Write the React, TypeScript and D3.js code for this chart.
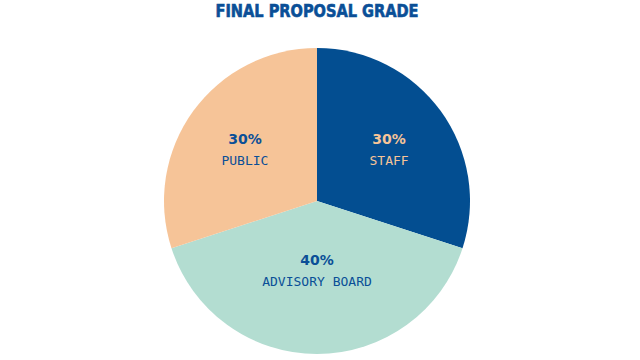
import { useMemo } from "react";
import * as d3 from "d3";

const categories = ["STAFF", "ADVISORY BOARD", "PUBLIC"];
const shares = [30, 40, 30];
const fills = ["#034e91", "#b3ddd1", "#f6c498"];
const textColors = ["#f6c498", "#0a4f97", "#0a4f97"];

const title = "FINAL PROPOSAL GRADE";

interface Slice {
  label: string;
  value: number;
  fill: string;
  text: string;
}

export default function App() {
  const width = 640;
  const height = 360;
  const cx = 317;
  const cy = 201;
  const radius = 153;

  const data: Slice[] = categories.map((c, i) => ({
    label: c,
    value: shares[i],
    fill: fills[i],
    text: textColors[i],
  }));

  const arcs = useMemo(
    () =>
      d3
        .pie<Slice>()
        .sort(null)
        .value((d) => d.value)(data),
    []
  );

  const arcGen = d3
    .arc<d3.PieArcDatum<Slice>>()
    .innerRadius(0)
    .outerRadius(radius);

  // inside labels: wider slices pull their text closer to the centre
  const labelPos = (a: d3.PieArcDatum<Slice>) => {
    const half = (a.endAngle - a.startAngle) / 2;
    const mid = (a.startAngle + a.endAngle) / 2;
    const sinc = Math.sin(half) / half;
    const dist = 0.79 * radius * sinc * sinc;
    return [dist * Math.sin(mid), -dist * Math.cos(mid)];
  };

  return (
    <svg
      width={width}
      height={height}
      style={{ position: "fixed", top: 0, left: 0, background: "#fff" }}
    >
      <text
        x={cx}
        y={17}
        textAnchor="middle"
        fill="#0a4f97"
        stroke="#0a4f97"
        strokeWidth={0.6}
        fontFamily="'Liberation Sans Narrow', 'DejaVu Sans Condensed', sans-serif"
        fontWeight="bold"
        fontSize={18}
        textLength={203}
        lengthAdjust="spacingAndGlyphs"
      >
        {title}
      </text>
      <g transform={`translate(${cx},${cy})`}>
        {arcs.map((a, i) => (
          <path key={i} d={arcGen(a) ?? ""} fill={a.data.fill} />
        ))}
        {arcs.map((a, i) => {
          const [x, y] = labelPos(a);
          return (
            <g key={i} transform={`translate(${x},${y})`} fill={a.data.text}>
              <text
                y={-5}
                textAnchor="middle"
                fontFamily="'DejaVu Sans', sans-serif"
                fontWeight="bold"
                fontSize={14}
              >
                {a.data.value}%
              </text>
              <text
                y={16}
                textAnchor="middle"
                fontFamily="'DejaVu Sans Mono', monospace"
                fontSize={13}
              >
                {a.data.label}
              </text>
            </g>
          );
        })}
      </g>
    </svg>
  );
}
